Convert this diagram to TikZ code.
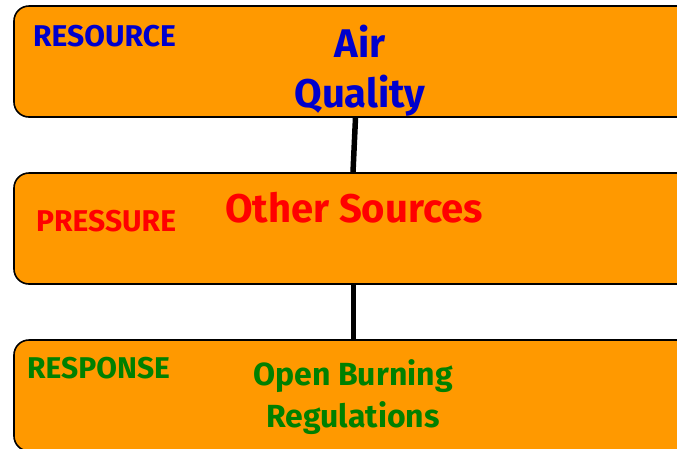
\documentclass[tikz,border=0pt]{standalone}
\usepackage{fontspec}
\setmainfont{Fira Sans}
\usepackage{tikz}
\definecolor{boxorange}{RGB}{255,153,0}
\definecolor{resblue}{RGB}{0,0,204}
\definecolor{resgreen}{RGB}{0,128,0}
\tikzset{
    stagebox/.style={
        rectangle,
        rounded corners=15pt, % 圆角
        draw=black, % 黑色边框
        fill=boxorange, % 橙色填充
        line width=1.6pt,
        minimum width=686pt,
        minimum height=111pt,
        inner sep=0
    },
    stagelabel/.style={
        anchor=base west,
        inner sep=0,
        font=\bfseries\fontsize{30}{36}\selectfont
    },
    stagetitle/.style={
        anchor=north,
        align=center,
        inner sep=0,
        font=\bfseries\fontsize{40}{50}\selectfont
    },
    link/.style={
        draw=black,
        line width=5.5pt % 粗连线
    }
}

\begin{document}
\begin{tikzpicture}[x=1pt,y=-1pt]
            \useasboundingbox (0,0) rectangle (677,448);
            % 三个框
            \node[stagebox] (resource) at (357,61.5) {};
            \node[stagebox] (pressure) at (357,228.5) {};
            \node[stagebox] (response) at (357,395.5) {};
            % 连线
            \draw[link] ([xshift=-1.5pt]resource.south) -- ([xshift=-4pt]pressure.north);
            \draw[link] ([xshift=-3.5pt]pressure.south) -- ([xshift=-3.5pt]response.north);
            % 文字
            \node[stagelabel, text=resblue] (resourcelabel) at (33,46) {RESOURCE};
            \node[stagetitle, text=resblue] (resourcetitle) at (360,25) {Air\\Quality};
            \node[stagelabel, text=red] (pressurelabel) at (36,231) {PRESSURE};
            \node[stagetitle, text=red, anchor=base] (pressuretitle) at (354,222) {Other Sources};
            \node[stagelabel, text=resgreen] (responselabel) at (27,378) {RESPONSE};
            \node[stagetitle, text=resgreen,
                  font=\bfseries\fontsize{32}{42}\selectfont] (responsetitle) at (353,359) {Open Burning\\Regulations};
\end{tikzpicture}
\end{document}
